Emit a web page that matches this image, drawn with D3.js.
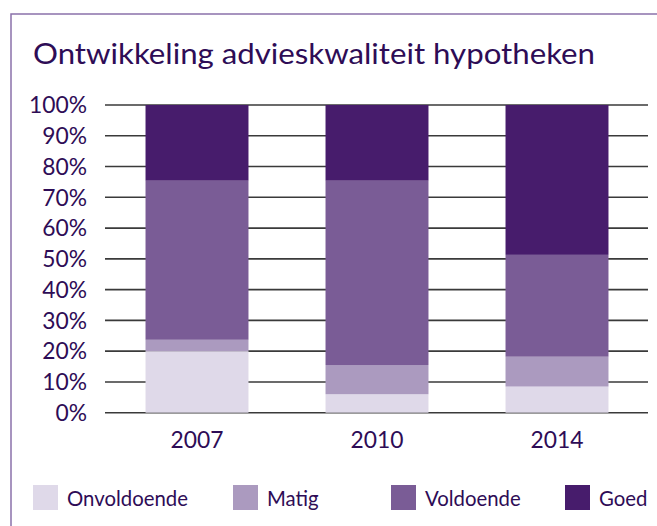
<!DOCTYPE html>
<html>
<head>
<meta charset="utf-8">
<script src="https://cdn.jsdelivr.net/npm/d3@7"></script>
<style>
  html, body { margin: 0; padding: 0; background: #fff; }
  svg { display: block; font-family: Lato, "Open Sans", sans-serif; }
</style>
</head>
<body>
<svg id="chart" width="657" height="526"></svg>
<script>
// values (percent of each year)
const years = ['2007', '2010', '2014'];
const categories = ['Onvoldoende', 'Matig', 'Voldoende', 'Goed'];
const onvoldoende = [20, 6, 8.5];
const matig = [3.7, 9.5, 9.7];
const voldoende = [51.7, 59.9, 33.1];
const goed = [24.6, 24.6, 48.7];
const yTicks = [0, 10, 20, 30, 40, 50, 60, 70, 80, 90, 100];

const colors = ['#dfd9e9', '#ab9abf', '#7a5c96', '#471c6c'];
const textColor = '#2e0c56';

const rows = years.map((y, i) => ({
  year: y,
  Onvoldoende: onvoldoende[i],
  Matig: matig[i],
  Voldoende: voldoende[i],
  Goed: goed[i],
}));

const svg = d3.select('#chart');

// frame
svg.append('path')
  .attr('d', 'M11,530 L11,14 L660,14')
  .attr('fill', 'none')
  .attr('stroke', '#8b72ab')
  .attr('stroke-width', 1.5);

// title (squeezed a bit, the original font is narrower)
svg.append('text')
  .attr('x', 33).attr('y', 64)
  .attr('font-size', 29)
  .attr('textLength', 562)
  .attr('lengthAdjust', 'spacingAndGlyphs')
  .attr('fill', textColor)
  .text('Ontwikkeling advieskwaliteit hypotheken');

const y = d3.scaleLinear().domain([0, 100]).range([412.7, 105]);
const x = d3.scaleBand().domain(years).range([107, 647])
  .paddingInner(0.428).paddingOuter(0.214);

// gridlines
svg.append('g')
  .selectAll('line')
  .data(yTicks)
  .join('line')
  .attr('x1', 105).attr('x2', 648)
  .attr('y1', d => y(d)).attr('y2', d => y(d))
  .attr('stroke', '#3a3a3a')
  .attr('stroke-width', 1.6);

// y tick labels
const yLab = svg.append('g')
  .selectAll('text')
  .data(yTicks)
  .join('text')
  .attr('x', 87)
  .attr('y', d => y(d))
  .attr('dy', '0.36em')
  .attr('text-anchor', 'end')
  .attr('font-size', 22)
  .attr('fill', textColor)
  .text(d => d + '%');
const ref = yLab.filter(d => d === 100).node();
const ySize = (22 * 58 / ref.getComputedTextLength()).toFixed(2);
yLab.attr('font-size', ySize);

// stacked bars
const series = d3.stack().keys(categories)(rows);
svg.append('g')
  .selectAll('g')
  .data(series)
  .join('g')
  .attr('fill', (d, i) => colors[i])
  .selectAll('rect')
  .data(d => d)
  .join('rect')
  .attr('x', d => x(d.data.year))
  .attr('width', x.bandwidth())
  .attr('y', d => y(d[1]))
  .attr('height', d => y(d[0]) - y(d[1]));

// x labels
svg.append('g')
  .selectAll('text')
  .data(years)
  .join('text')
  .attr('x', d => x(d) + x.bandwidth() / 2)
  .attr('y', 448)
  .attr('text-anchor', 'middle')
  .attr('font-size', ySize)
  .attr('fill', textColor)
  .text(d => d);

// legend
const legendX = [33, 233, 391, 565];
const leg = svg.append('g')
  .selectAll('g')
  .data(categories)
  .join('g')
  .attr('transform', (d, i) => `translate(${legendX[i]},485)`);
leg.append('rect')
  .attr('width', 25).attr('height', 25)
  .attr('fill', (d, i) => colors[i]);
const legText = leg.append('text')
  .attr('x', 34).attr('y', 21)
  .attr('font-size', 20)
  .attr('fill', textColor)
  .text(d => d);
const lw = legText.filter(d => d === 'Onvoldoende').node().getComputedTextLength();
legText.attr('font-size', (20 * 121 / lw).toFixed(2));
</script>
</body>
</html>
